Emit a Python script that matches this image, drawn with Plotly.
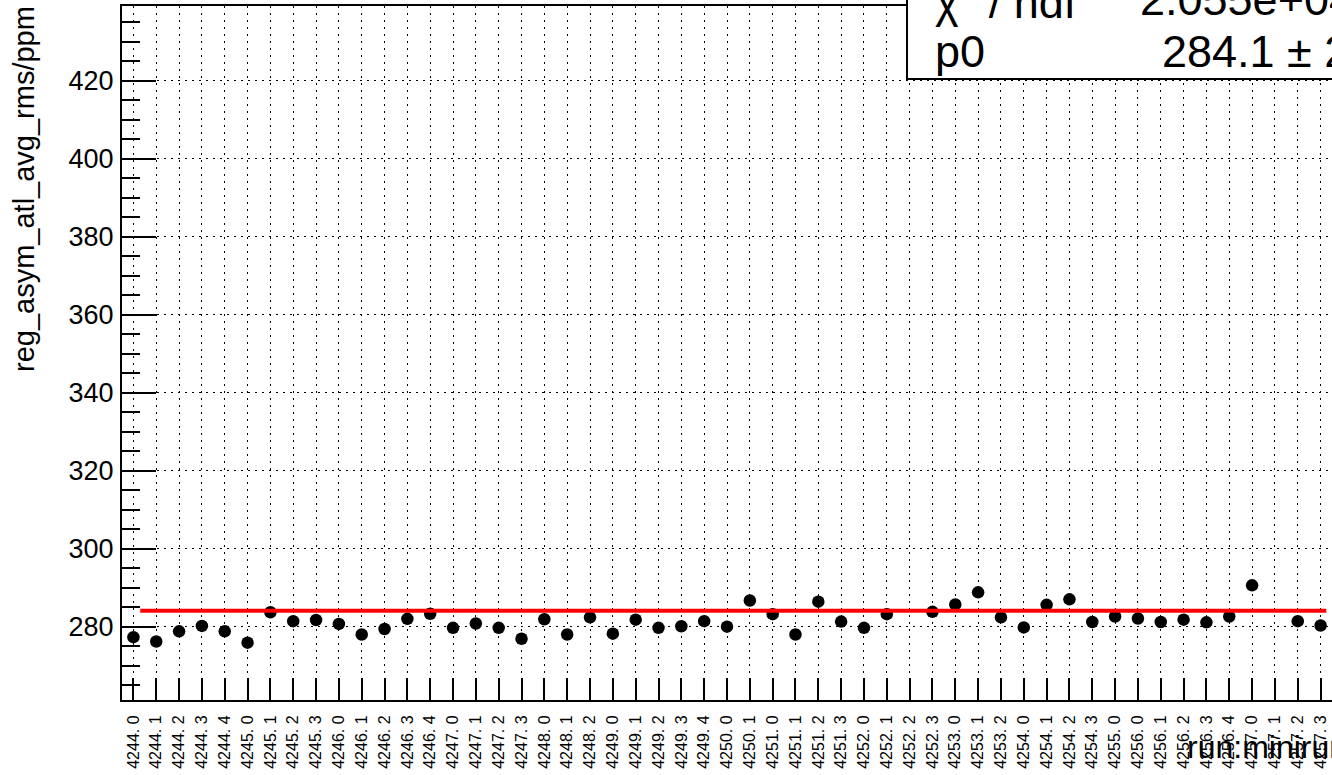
import plotly.graph_objects as go

# ---------------- data ----------------
LABELS = [
    "4244. 0", "4244. 1", "4244. 2", "4244. 3", "4244. 4",
    "4245. 0", "4245. 1", "4245. 2", "4245. 3",
    "4246. 0", "4246. 1", "4246. 2", "4246. 3", "4246. 4",
    "4247. 0", "4247. 1", "4247. 2", "4247. 3",
    "4248. 0", "4248. 1", "4248. 2",
    "4249. 0", "4249. 1", "4249. 2", "4249. 3", "4249. 4",
    "4250. 0", "4250. 1",
    "4251. 0", "4251. 1", "4251. 2", "4251. 3",
    "4252. 0", "4252. 1", "4252. 2", "4252. 3",
    "4253. 0", "4253. 1", "4253. 2",
    "4254. 0", "4254. 1", "4254. 2", "4254. 3",
    "4255. 0",
    "4256. 0", "4256. 1", "4256. 2", "4256. 3", "4256. 4",
    "4257. 0", "4257. 1", "4257. 2", "4257. 3",
]
VALUES = [
    277.3, 276.2, 278.8, 280.2, 278.8,
    275.9, 283.7, 281.4, 281.7,
    280.7, 278.0, 279.4, 282.0, 283.3,
    279.7, 280.8, 279.7, 276.9,
    281.9, 278.0, 282.4,
    278.2, 281.8, 279.7, 280.1, 281.4,
    280.0, 286.7,
    283.2, 278.0, 286.4, 281.3,
    279.7, 283.2, None, 283.8,
    285.7, 288.8, 282.4,
    279.8, 285.6, 287.0, 281.2,
    282.6,
    282.1, 281.2, 281.8, 281.1, 282.6,
    290.6, None, 281.4, 280.3,
]
FIT_P0 = 284.1
FIT_RANGE = [0.3, 52.25]
CHI2_NDF_TEXT = "2.055e+04"
P0_TEXT = "284.1 \u00b1 2"
Y_TITLE = "reg_asym_atl_avg_rms/ppm"
X_TITLE = "run:minirun"

# ---------------- layout geometry ----------------
W, H = 1332, 775
ML, MR, MT, MB = 122, 0, 6, 75
PW, PH = W - ML - MR, H - MT - MB
FONT = "Liberation Sans, Arial, Helvetica, sans-serif"


def px_x(p):
    return (p - ML) / PW


def px_y(p):
    return 1 - (p - MT) / PH


positions = list(range(len(LABELS)))

fig = go.Figure()
fig.add_trace(go.Scatter(
    x=positions, y=VALUES, mode="markers",
    marker=dict(symbol="circle", size=12.5, color="black"),
    showlegend=False, hoverinfo="x+y",
))
fig.add_trace(go.Scatter(
    x=FIT_RANGE, y=[FIT_P0, FIT_P0], mode="lines",
    line=dict(color="#ff0000", width=4),
    showlegend=False, hoverinfo="skip",
))

fig.update_layout(
    width=W, height=H,
    margin=dict(l=ML, r=MR, t=MT, b=MB),
    paper_bgcolor="white", plot_bgcolor="white",
    font=dict(family=FONT, color="black"),
    xaxis=dict(
        range=[-0.5, len(LABELS) - 0.5],
        tickmode="array", tickvals=positions, ticktext=LABELS,
        tickangle=-90, tickfont=dict(size=16, family=FONT, color="black"),
        ticks="inside", ticklen=22, tickwidth=1.5, tickcolor="black",
        showline=True, linewidth=2, linecolor="black", mirror=True,
        showgrid=True, gridcolor="black", gridwidth=1, griddash="2px,5px",
        zeroline=False, ticklabelstandoff=7, automargin=False,
    ),
    yaxis=dict(
        range=[261.2, 439.1],
        tickmode="linear", tick0=0, dtick=20,
        tickfont=dict(size=27, family=FONT, color="black"),
        ticks="inside", ticklen=34, tickwidth=2, tickcolor="black",
        minor=dict(tickmode="linear", tick0=0, dtick=5, ticks="inside",
                   ticklen=18, tickwidth=1.5, tickcolor="black", showgrid=False),
        showline=True, linewidth=2, linecolor="black", mirror=False,
        showgrid=True, gridcolor="black", gridwidth=1, griddash="2px,5px",
        zeroline=False, ticklabelstandoff=1, automargin=False,
    ),
)

# stats box
fig.add_shape(type="rect", xref="paper", yref="paper",
              x0=px_x(907), x1=px_x(1345), y0=px_y(79), y1=px_y(-20),
              line=dict(color="black", width=2), fillcolor="white", layer="above")

STAT_SIZE = 45
ann = []
ann.append(dict(text="\u03c7<sup>2</sup> / ndf", x=px_x(933), y=px_y(13 - 0.3 * STAT_SIZE),
                xanchor="left", yanchor="middle"))
ann.append(dict(text=CHI2_NDF_TEXT, x=px_x(1138), y=px_y(13 - 0.3 * STAT_SIZE),
                xanchor="left", yanchor="middle"))
ann.append(dict(text="p0", x=px_x(933), y=px_y(65 - 0.3 * STAT_SIZE),
                xanchor="left", yanchor="middle"))
ann.append(dict(text=P0_TEXT, x=px_x(1160), y=px_y(65 - 0.3 * STAT_SIZE),
                xanchor="left", yanchor="middle"))
for a in ann:
    a.update(xref="paper", yref="paper", showarrow=False,
             font=dict(size=STAT_SIZE, family=FONT, color="black"))
    fig.add_annotation(**a)

# axis titles
fig.add_annotation(text=Y_TITLE, xref="paper", yref="paper",
                   x=px_x(24), y=px_y(4), xanchor="center", yanchor="top",
                   textangle=-90, showarrow=False,
                   font=dict(size=29, family=FONT, color="black"))
fig.add_annotation(text=X_TITLE, xref="paper", yref="paper",
                   x=px_x(1185), y=px_y(757 - 0.3 * 32), xanchor="left", yanchor="middle",
                   showarrow=False, font=dict(size=32, family=FONT, color="black"))

fig.write_html("out.html",
               config={"displayModeBar": False},
               post_script="document.body.style.margin='0';document.body.style.overflow='hidden';")
